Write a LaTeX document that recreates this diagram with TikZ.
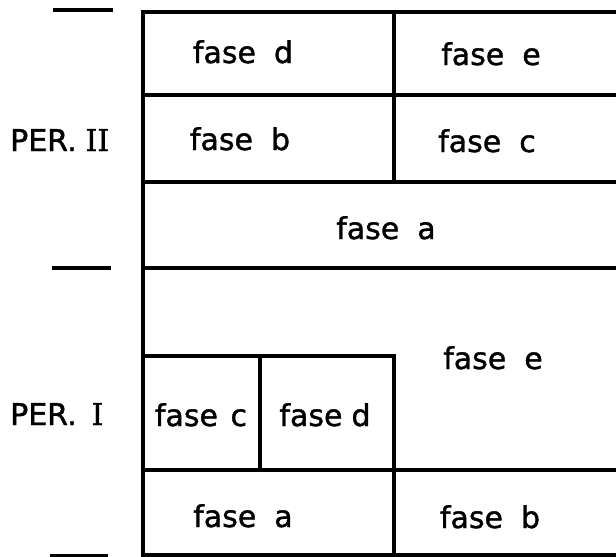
\documentclass[tikz,border=0pt]{standalone}
\usepackage{fontspec}
\newfontfamily\lab[FakeBold=1.3]{DejaVu Sans}
\newfontfamily\labser[FakeBold=1.0]{DejaVu Serif}
\newcommand\fs[1]{fase\hspace{0.6em}#1}
\begin{document}
\begin{tikzpicture}[x=1pt,y=-1pt,
  grid/.style={line width=3.3pt, line join=miter},
  tickline/.style={line width=3.3pt},
  lbl/.style={font=\lab\fontsize{30}{32}\selectfont, anchor=base, inner sep=0pt},
  per/.style={font=\lab\fontsize{30}{32}\selectfont, anchor=base west, inner sep=0pt}]
\useasboundingbox (0,0) rectangle (616,557);
% outer frame (open at right)
\draw[grid] (616,12) -- (143,12) -- (143,555) -- (616,555);
% full-width horizontals
\draw[grid] (143,95) -- (616,95);
\draw[grid] (143,182) -- (616,182);
\draw[grid] (143,268) -- (616,268);
\draw[grid] (143,470) -- (616,470);
% partial horizontal
\draw[grid] (143,356) -- (394,356) -- (394,555);
% verticals
\draw[grid] (394,12) -- (394,182);
\draw[grid] (260,356) -- (260,470);
% ticks
\coordinate (t1a) at (53,10); \coordinate (t1b) at (113,10);
\coordinate (t2a) at (52,268); \coordinate (t2b) at (111,268);
\coordinate (t3a) at (50,556); \coordinate (t3b) at (108,556);
\draw[tickline] (t1a) -- (t1b);
\draw[tickline] (t2a) -- (t2b);
\draw[tickline] (t3a) -- (t3b);
% labels
\node[lbl] (d2) at (243,63) {\fs{d}};
\node[lbl] (e2) at (491,65) {\fs{e}};
\node[lbl] (b2) at (240,150) {\fs{b}};
\node[lbl] (c2) at (487,152) {\fs{c}};
\node[lbl] (a2) at (386,239) {\fs{a}};
\node[lbl] (e1) at (493,369) {\fs{e}};
\node[lbl] (c1) at (201,426) {fase\hspace{0.42em}c};
\node[lbl] (d1) at (325,426) {fase\hspace{0.3em}d};
\node[lbl] (a1) at (243,527) {\fs{a}};
\node[lbl] (b1) at (490,528) {\fs{b}};
\node[per] (p2) at (10,151) {PER.\hspace{0.3em}{\labser II}};
\node[per] (p1) at (10,425) {PER.\hspace{0.5em}{\labser I}};
\end{tikzpicture}
\end{document}
